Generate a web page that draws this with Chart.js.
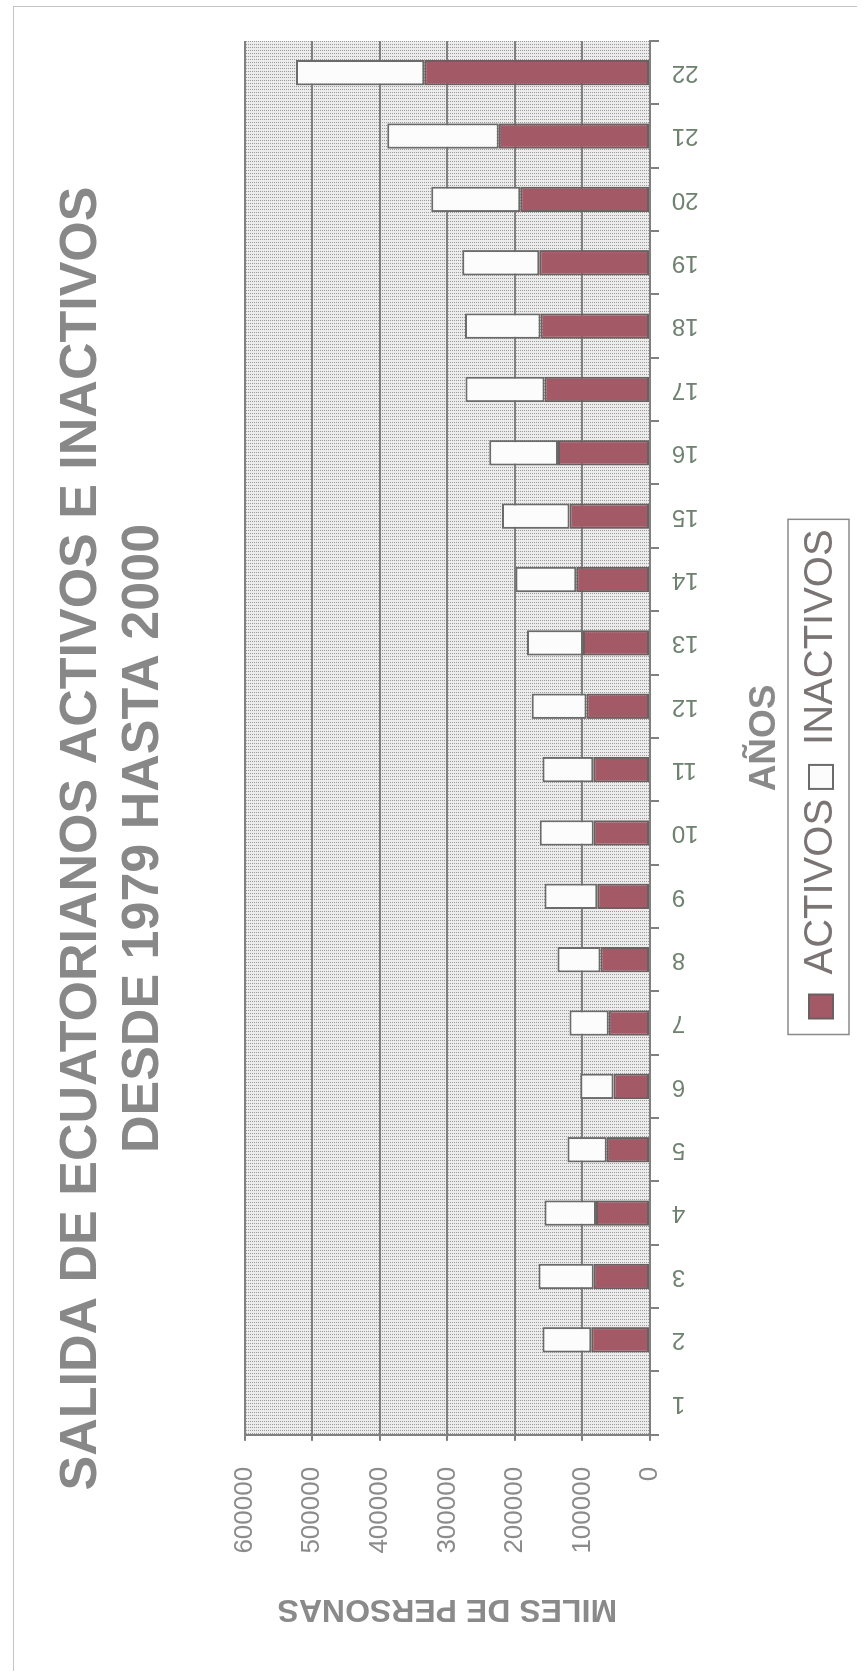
<!DOCTYPE html>
<html>
<head>
<meta charset="utf-8">
<script src="https://cdn.jsdelivr.net/npm/chart.js@4.4.1/dist/chart.umd.min.js"></script>
<style>
  html, body { margin: 0; padding: 0; background: #ffffff; }
  body { width: 868px; height: 1677px; position: relative; overflow: hidden; }
  #frame { position: absolute; left: 13px; top: 6px; width: 843px; height: 1664px; border: 1px solid #c4c4c4; border-right: none; border-bottom: none; }
  /* the chart is drawn lying on its side, so the wrapper is turned a quarter turn */
  #wrap { position: absolute; left: 0; top: 0; width: 1677px; height: 868px;
          transform-origin: 0 0; transform: translate(0, 1677px) rotate(-90deg); }
</style>
</head>
<body>
<div id="frame"></div>
<div id="wrap"><canvas id="grafico" width="1677" height="868"></canvas></div>
<script>
// años (1 = 1979 ... 22 = 2000)
const anios = ["1", "2", "3", "4", "5", "6", "7", "8", "9", "10", "11",
               "12", "13", "14", "15", "16", "17", "18", "19", "20", "21", "22"];

const activos = [0, 87000, 83000, 80000, 64000, 54000, 61000, 73000, 78000, 83000, 84000,
                 94000, 99000, 109000, 119000, 136000, 156000, 162000, 164000, 192000, 224000, 334000];

const inactivos = [0, 72000, 82000, 76000, 58000, 49000, 58000, 64000, 78000, 80000, 75000,
                   81000, 83000, 90000, 100000, 102000, 117000, 112000, 114000, 132000, 165000, 190000];

const ejeMax = 600000;
const ejePaso = 100000;

const FUENTE = "'Liberation Sans', Arial, sans-serif";

// dotted grey fill of the plot area
function tramaPuntos() {
  const c = document.createElement("canvas");
  c.width = 3;
  c.height = 2;
  const g = c.getContext("2d");
  g.fillStyle = "#ececec";
  g.fillRect(0, 0, 3, 2);
  g.fillStyle = "#9a9a9a";
  g.fillRect(0, 0, 1, 1);
  return g.createPattern(c, "repeat");
}

const fondoPlot = {
  id: "fondoPlot",
  beforeDraw(chart) {
    const a = chart.chartArea;
    const ctx = chart.ctx;
    ctx.save();
    ctx.fillStyle = tramaPuntos();
    ctx.fillRect(a.left, a.top, a.right - a.left, a.bottom - a.top);
    ctx.restore();
  }
};

// legend sits a little left of the plot centre in the original
const desplazaLeyenda = {
  id: "desplazaLeyenda",
  afterLayout(chart) {
    chart.legend.left -= 36;
    chart.legend.right -= 36;
  }
};

// Excel-like frame around the legend
const marcoLeyenda = {
  id: "marcoLeyenda",
  afterDraw(chart) {
    const cajas = chart.legend.legendHitBoxes;
    if (!cajas || !cajas.length) return;
    const primera = cajas[0];
    const ultima = cajas[cajas.length - 1];
    const x0 = primera.left - 16;
    const x1 = ultima.left + ultima.width + 10;
    const y0 = primera.top - 13;
    const y1 = primera.top + primera.height + 8;
    const ctx = chart.ctx;
    ctx.save();
    ctx.strokeStyle = "#8a8a8a";
    ctx.lineWidth = 1.5;
    ctx.strokeRect(x0, y0, x1 - x0, y1 - y0);
    ctx.restore();
  }
};

new Chart(document.getElementById("grafico"), {
  type: "bar",
  data: {
    labels: anios,
    datasets: [
      {
        label: "ACTIVOS",
        data: activos,
        backgroundColor: "#a35a66",
        borderColor: "#6b5f60",
        borderWidth: 2,
        borderSkipped: false,
        barPercentage: 0.4,
        categoryPercentage: 1
      },
      {
        label: "INACTIVOS",
        data: inactivos,
        backgroundColor: "#fcfcfc",
        borderColor: "#6b6b6b",
        borderWidth: 2,
        borderSkipped: false,
        barPercentage: 0.4,
        categoryPercentage: 1
      }
    ]
  },
  options: {
    responsive: false,
    animation: false,
    devicePixelRatio: 1,
    layout: { padding: { left: 0, right: 0, top: 0, bottom: 17 } },
    plugins: {
      title: {
        display: true,
        text: ["SALIDA DE ECUATORIANOS ACTIVOS E INACTIVOS", "DESDE 1979 HASTA 2000"],
        color: "#888888",
        font: { family: FUENTE, size: 52, weight: "bold", lineHeight: 1.19 },
        padding: { top: 51, bottom: 70 }
      },
      legend: {
        position: "bottom",
        fullSize: false,
        labels: {
          color: "#7a7474",
          font: { family: FUENTE, size: 40 },
          boxWidth: 24,
          boxHeight: 24,
          padding: 10
        }
      },
      tooltip: { enabled: false }
    },
    scales: {
      x: {
        stacked: true,
        grid: { display: true, drawOnChartArea: false, drawTicks: true, tickLength: 9, color: "#808080", lineWidth: 2 },
        border: { display: true, color: "#808080", width: 2 },
        ticks: {
          color: "#6f8270",
          font: { family: FUENTE, size: 24 },
          minRotation: 90,
          maxRotation: 90,
          autoSkip: false,
          padding: 13
        },
        title: {
          display: true,
          text: "AÑOS",
          color: "#8a8a8a",
          font: { family: FUENTE, size: 37, weight: "bold", lineHeight: 1.2 },
          padding: { top: 31, bottom: 4 }
        }
      },
      y: {
        stacked: true,
        min: 0,
        max: ejeMax,
        grid: { color: "#808080", lineWidth: 2, tickLength: 6 },
        border: { display: true, color: "#808080", width: 2 },
        ticks: {
          stepSize: ejePaso,
          color: "#8b8b8b",
          font: { family: FUENTE, size: 26 },
          padding: 26,
          callback: (v) => String(v)
        },
        title: {
          display: true,
          text: "MILES DE PERSONAS",
          color: "#8a8a8a",
          font: { family: FUENTE, size: 32, weight: "bold", lineHeight: 1.2 },
          padding: { top: 49, bottom: 10 }
        }
      },
      // empty strip on the far side so the title centres on the whole sheet
      margen: {
        type: "linear",
        position: "right",
        min: 0,
        max: 1,
        grid: { display: false },
        border: { display: false },
        ticks: { display: false },
        afterFit: (escala) => { escala.width = 41; }
      }
    }
  },
  plugins: [fondoPlot, desplazaLeyenda, marcoLeyenda]
});
</script>
</body>
</html>
